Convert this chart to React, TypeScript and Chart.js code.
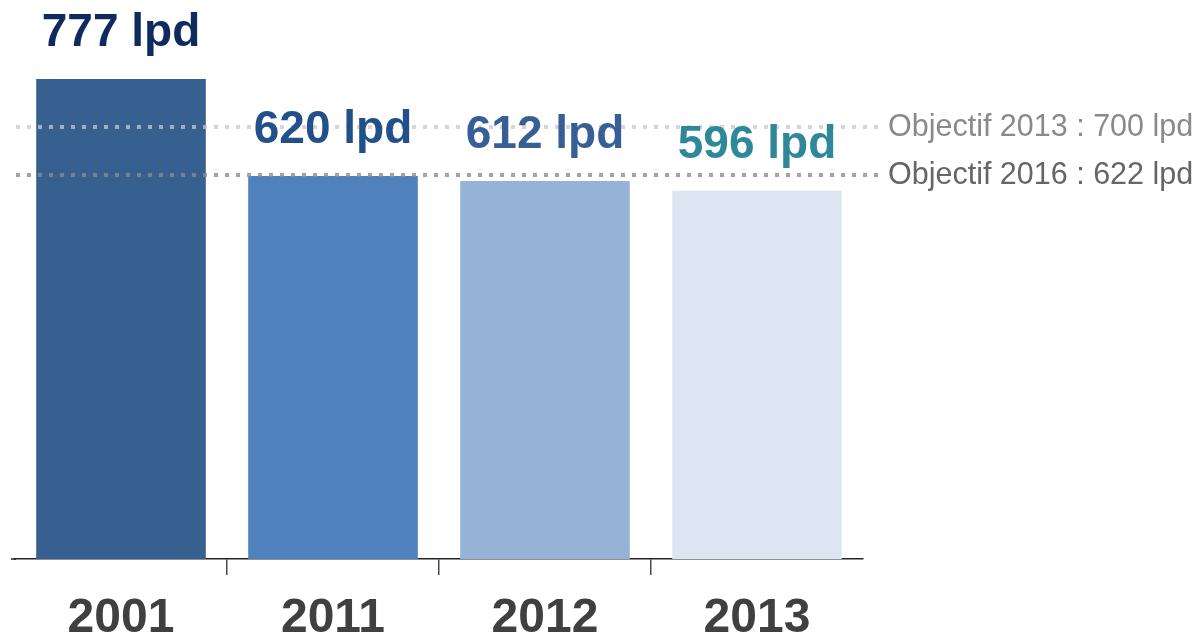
import React, { useEffect, useRef } from "react";
import { Chart, registerables } from "chart.js";

Chart.register(...registerables);

const categories = ["2001", "2011", "2012", "2013"];
const values = [777, 620, 612, 596];
const valueLabels = ["777 lpd", "620 lpd", "612 lpd", "596 lpd"];
const barColors = ["#36608f", "#4f81bd", "#95b3d7", "#dce6f2"];
const labelColors = ["#0f2a5f", "#21508a", "#385f95", "#2e889a"];
const targetValues = [700, 622];
const targetLabels = ["Objectif 2013 : 700 lpd", "Objectif 2016 : 622 lpd"];
const targetLineColors = ["rgba(200,200,200,0.75)", "rgba(140,140,140,0.8)"];
const targetTextColors = ["#8a8a8a", "#666666"];
const yMax = 905;

const FONT = "'Liberation Sans', Arial, Helvetica, sans-serif";

const overlayPlugin = {
  id: "overlay",
  afterDatasetsDraw(chart: any) {
    const { ctx, chartArea, scales } = chart;
    const x = scales.x;
    const y = scales.y;
    ctx.save();
    // small extension of the axis line to the left
    ctx.strokeStyle = "#222222";
    ctx.lineWidth = 1.5;
    ctx.beginPath();
    ctx.moveTo(chartArea.left - 4, chartArea.bottom);
    ctx.lineTo(chartArea.left + 1, chartArea.bottom);
    ctx.stroke();
    // target dotted lines + labels
    targetValues.forEach((v, i) => {
      const py = Math.round(y.getPixelForValue(v));
      ctx.strokeStyle = targetLineColors[i];
      ctx.lineWidth = 4;
      ctx.setLineDash([4, 7]);
      ctx.beginPath();
      ctx.moveTo(chartArea.left + 1, py);
      ctx.lineTo(chartArea.right + 16, py);
      ctx.stroke();
      ctx.setLineDash([]);
      ctx.fillStyle = targetTextColors[i];
      ctx.font = `30.5px ${FONT}`;
      ctx.textAlign = "left";
      ctx.textBaseline = "middle";
      ctx.fillText(targetLabels[i], chartArea.right + 25, py + 1);
    });
    // value labels
    const meta = chart.getDatasetMeta(0);
    meta.data.forEach((bar: any, i: number) => {
      ctx.fillStyle = labelColors[i];
      ctx.font = `bold 46px ${FONT}`;
      ctx.textAlign = "center";
      ctx.textBaseline = "alphabetic";
      ctx.fillText(valueLabels[i], bar.x, bar.y - 33);
    });
    // category labels
    categories.forEach((c, i) => {
      ctx.fillStyle = "#404040";
      ctx.font = `bold 48px ${FONT}`;
      ctx.textAlign = "center";
      ctx.textBaseline = "alphabetic";
      ctx.fillText(c, x.getPixelForValue(i), chartArea.bottom + 73);
    });
    ctx.restore();
  },
};

export default function App() {
  const canvasRef = useRef<HTMLCanvasElement | null>(null);

  useEffect(() => {
    if (!canvasRef.current) return;
    const chart = new Chart(canvasRef.current, {
      type: "bar",
      data: {
        labels: categories,
        datasets: [
          {
            data: values,
            backgroundColor: barColors,
            borderWidth: 0,
            categoryPercentage: 1,
            barPercentage: 0.8,
          },
        ],
      },
      options: {
        responsive: false,
        animation: false,
        layout: { padding: { left: 15, right: 339, top: 0, bottom: 62 } },
        plugins: {
          legend: { display: false },
          tooltip: { enabled: false },
        },
        scales: {
          x: {
            display: true,
            grid: {
              offset: true,
              drawOnChartArea: false,
              drawTicks: true,
              tickLength: 16,
              lineWidth: 1.5,
              color: (ctx: any) =>
                typeof ctx.index !== "number" || ctx.index === 0 || ctx.index >= categories.length
                  ? "rgba(0,0,0,0)"
                  : "#4a4a4a",
            },
            border: { display: true, color: "#222222", width: 1.5 },
            ticks: { display: false },
          },
          y: {
            display: false,
            min: 0,
            max: yMax,
          },
        },
      },
      plugins: [overlayPlugin],
    });
    return () => chart.destroy();
  }, []);

  return (
    <div style={{ position: "fixed", left: 0, top: 0, width: 1202, height: 637, background: "#fff" }}>
      <canvas ref={canvasRef} width={1202} height={637} style={{ display: "block" }} />
    </div>
  );
}
